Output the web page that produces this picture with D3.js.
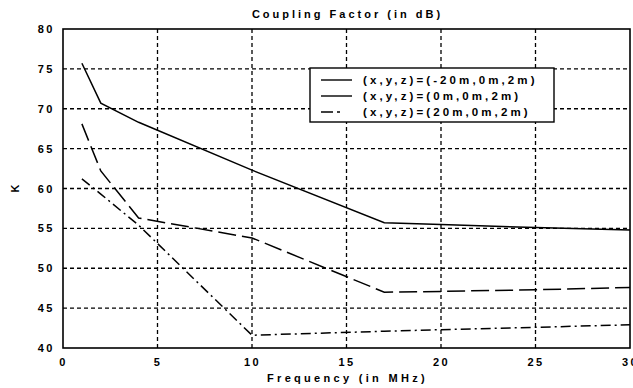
<!DOCTYPE html>
<html>
<head>
    <title>Coupling Factor</title>
    <script src="https://d3js.org/d3.v7.min.js"></script>
    <style>
        body { margin: 0; background: #fff; }
        text { font-family: "Liberation Sans", Arial, sans-serif; font-weight: bold; fill: #000; }
    </style>
</head>
<body>
<script>
// Frequencies (MHz) and coupling factor K (dB) for each position
const freqA = [1, 2, 4, 10, 17, 20, 25, 30];
const kA = [75.7, 70.7, 68.3, 62.3, 55.7, 55.5, 55.1, 54.8];

const freqB = [1, 2, 4, 10, 17, 20, 25, 30];
const kB = [68.1, 62.2, 56.3, 53.8, 47.0, 47.1, 47.3, 47.6];

const freqC = [1, 2, 4, 10, 17, 20, 25, 30];
const kC = [61.2, 59.3, 55.4, 41.6, 42.1, 42.3, 42.6, 42.9];

const seriesNames = ['(x,y,z)=(-20m,0m,2m)', '(x,y,z)=(0m,0m,2m)', '(x,y,z)=(20m,0m,2m)'];
const xTicks = [0, 5, 10, 15, 20, 25, 30];
const yTicks = [40, 45, 50, 55, 60, 65, 70, 75, 80];

const margin = { top: 29, right: 3, bottom: 40, left: 63 };
const width = 633 - margin.left - margin.right;
const height = 388 - margin.top - margin.bottom;

const svg = d3.select('body')
    .append('svg')
    .attr('width', 633)
    .attr('height', 388);

const g = svg.append('g')
    .attr('transform', `translate(${margin.left},${margin.top})`);

const x = d3.scaleLinear().domain([0, 30]).range([0, width]);
const y = d3.scaleLinear().domain([40, 80]).range([height, 0]);

// grid
g.append('g')
    .selectAll('line')
    .data(xTicks.slice(1, -1))
    .enter()
    .append('line')
    .attr('x1', d => x(d)).attr('x2', d => x(d))
    .attr('y1', 0).attr('y2', height)
    .attr('stroke', '#000')
    .attr('stroke-width', 1.3)
    .attr('stroke-dasharray', '4,3');

g.append('g')
    .selectAll('line')
    .data(yTicks.slice(1, -1))
    .enter()
    .append('line')
    .attr('x1', 0).attr('x2', width)
    .attr('y1', d => y(d)).attr('y2', d => y(d))
    .attr('stroke', '#000')
    .attr('stroke-width', 1.3)
    .attr('stroke-dasharray', '4,3');

// axes
const xAxis = g.append('g')
    .attr('transform', `translate(0,${height})`)
    .call(d3.axisBottom(x).tickValues(xTicks).tickSize(0).tickPadding(10));
const yAxis = g.append('g')
    .call(d3.axisLeft(y).tickValues(yTicks).tickSize(0).tickPadding(8));
[xAxis, yAxis].forEach(a => {
    a.select('.domain').remove();
    a.selectAll('text')
        .style('font-family', '"Liberation Sans", Arial, sans-serif')
        .style('font-weight', 'bold')
        .style('font-size', '11px')
        .style('letter-spacing', '2.5px');
});

// frame
g.append('rect')
    .attr('width', width)
    .attr('height', height)
    .attr('fill', 'none')
    .attr('stroke', '#000')
    .attr('stroke-width', 1.6);

// lines
const dashes = [null, '18,6', '10,4,2,4'];
const series = [
    freqA.map((f, i) => [f, kA[i]]),
    freqB.map((f, i) => [f, kB[i]]),
    freqC.map((f, i) => [f, kC[i]])
];
const line = d3.line().x(d => x(d[0])).y(d => y(d[1]));

series.forEach((s, i) => {
    g.append('path')
        .datum(s)
        .attr('d', line)
        .attr('fill', 'none')
        .attr('stroke', '#000')
        .attr('stroke-width', 1.5)
        .attr('stroke-dasharray', dashes[i]);
});

// legend
const legend = svg.append('g').attr('transform', 'translate(310,68)');
legend.append('rect')
    .attr('width', 244)
    .attr('height', 54)
    .attr('fill', '#fff')
    .attr('stroke', '#000')
    .attr('stroke-width', 1.4);

seriesNames.forEach((name, i) => {
    const ly = 12 + i * 16;
    legend.append('line')
        .attr('x1', 11).attr('x2', 42)
        .attr('y1', ly).attr('y2', ly)
        .attr('stroke', '#000')
        .attr('stroke-width', 1.4)
        .attr('stroke-dasharray', i === 2 ? '12,4,3,12' : null);
    legend.append('text')
        .attr('x', 53)
        .attr('y', ly + 4)
        .style('font-size', '11.5px')
        .style('letter-spacing', '3.1px')
        .text(name);
});

// title and axis labels
svg.append('text')
    .attr('x', margin.left + width / 2 + 1)
    .attr('y', 18)
    .attr('text-anchor', 'middle')
    .style('font-size', '11px')
    .style('letter-spacing', '3px')
    .text('Coupling Factor (in dB)');

svg.append('text')
    .attr('x', margin.left + width / 2 + 1)
    .attr('y', 382)
    .attr('text-anchor', 'middle')
    .style('font-size', '11px')
    .style('letter-spacing', '3.3px')
    .text('Frequency (in MHz)');

svg.append('text')
    .attr('transform', `translate(19,${margin.top + height / 2}) rotate(-90)`)
    .attr('text-anchor', 'middle')
    .style('font-size', '11px')
    .text('K');
</script>
</body>
</html>
